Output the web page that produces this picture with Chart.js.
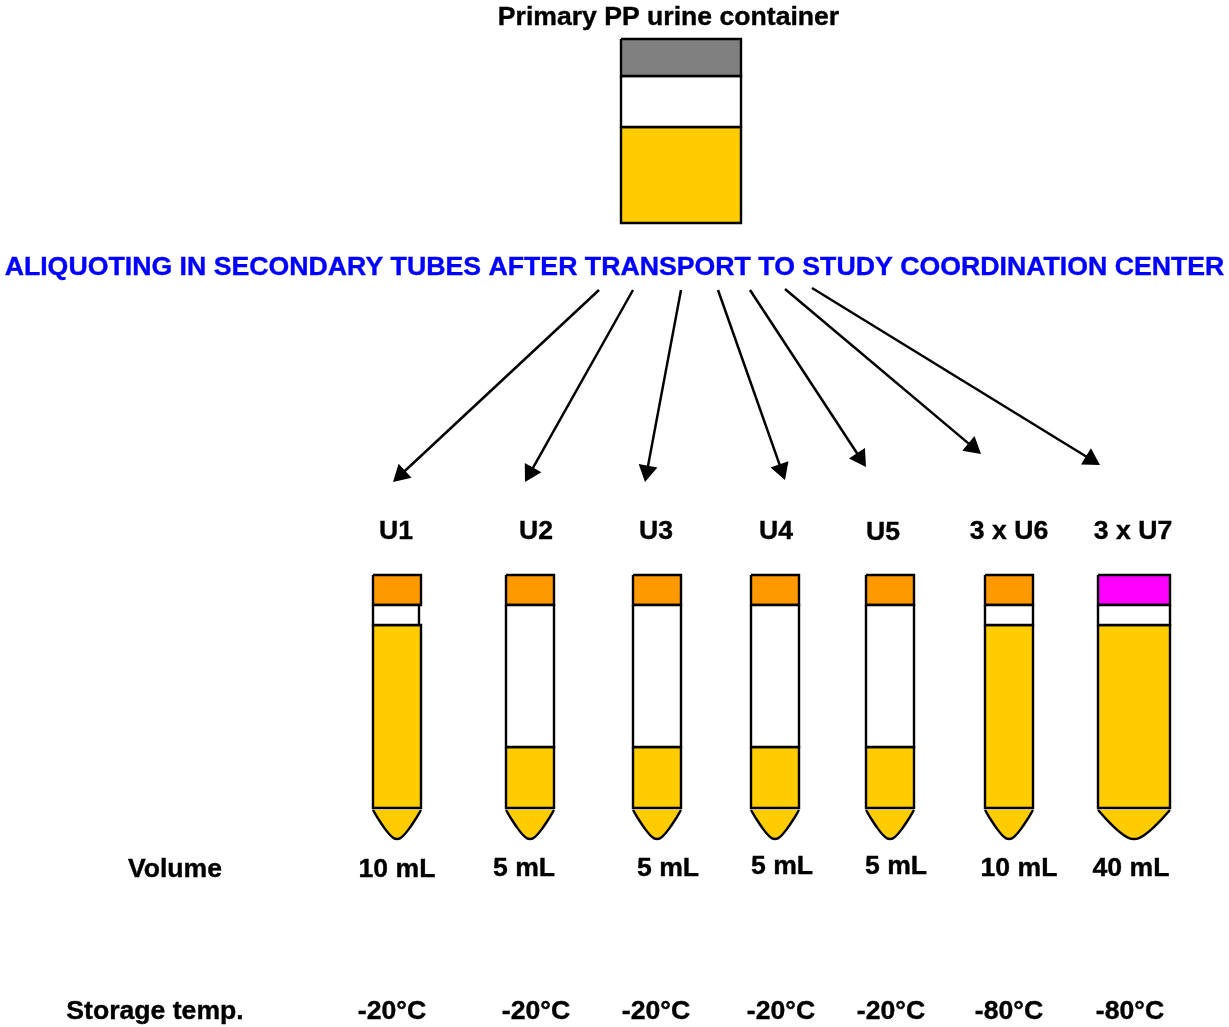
<!DOCTYPE html>
<html>
<head>
<meta charset="utf-8">
<title>Urine aliquoting scheme</title>
<script src="https://cdn.jsdelivr.net/npm/chart.js@4/dist/chart.umd.min.js"></script>
<style>
    html, body { margin: 0; padding: 0; background: #fff; overflow: hidden; }
    canvas { display: block; }
</style>
</head>
<body>
<canvas id="schemeChart" width="1229" height="1027"></canvas>
<script>
// secondary tubes
const tubeNames = ['U1', 'U2', 'U3', 'U4', 'U5', '3 x U6', '3 x U7'];
const tubeVolumes = ['10 mL', '5 mL', '5 mL', '5 mL', '5 mL', '10 mL', '40 mL'];
const tubeTemps = ['-20°C', '-20°C', '-20°C', '-20°C', '-20°C', '-80°C', '-80°C'];
const tubeLeft = [373, 506, 633, 751, 866, 985, 1098];
const tubeRight = [421, 554, 681, 799, 914, 1033, 1170];
const neckRight = [419, 554, 681, 799, 914, 1033, 1170];
const liquidTop = [625, 747, 747, 747, 747, 625, 625];
const capColors = ['#FF9900', '#FF9900', '#FF9900', '#FF9900', '#FF9900', '#FF9900', '#FF00FF'];

// text positions of the three rows below the arrows
const nameX = [396, 536, 656, 776, 883, 1009, 1133];
const nameY = [532, 532, 532, 532, 533, 532, 532];
const volumeX = [397, 524, 668, 782, 896, 1019, 1131];
const volumeY = [870, 869, 869, 867, 867, 869, 869];
const tempX = [392, 536, 656, 781, 891, 1009, 1130];

// arrows from the heading down to the tubes
const arrowStartX = [599, 633, 681, 718, 750, 785, 812];
const arrowStartY = [290, 290, 290, 290, 290, 289, 288];
const arrowEndX = [393, 525, 645, 785, 866, 981, 1100];
const arrowEndY = [482, 482, 482, 480, 467, 454, 465];

// rounded tube bottom, as fractions of tube width and tip height
const tipShapeX = [0, 0.12, 0.25, 0.36, 0.44, 0.5, 0.56, 0.64, 0.75, 0.88, 1];
const tipShapeY = [0, 0.33, 0.65, 0.87, 0.98, 1, 0.98, 0.87, 0.65, 0.33, 0];

const liquidColor = '#FFCC00';

function box(left, right, top, bottom, color) {
    return {
        data: [
            { x: left, y: top }, { x: right, y: top }, { x: right, y: bottom },
            { x: left, y: bottom }, { x: left, y: top }
        ],
        showLine: true,
        fill: 'shape',
        backgroundColor: color,
        borderColor: '#000',
        borderWidth: 2.4,
        borderJoinStyle: 'miter',
        pointRadius: 0
    };
}

function tip(left, right) {
    return {
        data: tipShapeX.map((fx, i) => ({
            x: left + fx * (right - left),
            y: 810 + tipShapeY[i] * 29
        })),
        showLine: true,
        fill: 'shape',
        backgroundColor: liquidColor,
        borderColor: '#000',
        borderWidth: 2.4,
        tension: 0.4,
        pointRadius: 0
    };
}

function arrow(i) {
    const dx = arrowEndX[i] - arrowStartX[i];
    const dy = arrowEndY[i] - arrowStartY[i];
    const len = Math.hypot(dx, dy);
    const headSize = 11;
    // the triangle marker is centred on its point, so pull it back from the tip
    return {
        data: [
            { x: arrowStartX[i], y: arrowStartY[i] },
            { x: arrowEndX[i] - dx / len * headSize, y: arrowEndY[i] - dy / len * headSize }
        ],
        showLine: true,
        borderColor: '#000',
        borderWidth: 2.5,
        pointStyle: 'triangle',
        pointRadius: [0, headSize],
        pointBorderWidth: 0,
        pointBackgroundColor: '#000',
        pointRotation: Math.atan2(dx, -dy) * 180 / Math.PI
    };
}

const datasets = [];

// primary container
datasets.push(box(621, 741, 39, 76, '#808080'));
datasets.push(box(621, 741, 76, 127, '#FFFFFF'));
datasets.push(box(621, 741, 127, 223, liquidColor));

tubeNames.forEach((name, i) => {
    datasets.push(box(tubeLeft[i], neckRight[i], 605, liquidTop[i], '#FFFFFF'));
    datasets.push(box(tubeLeft[i], tubeRight[i], 575, 605, capColors[i]));
    datasets.push(box(tubeLeft[i], tubeRight[i], liquidTop[i], 808, liquidColor));
    datasets.push(tip(tubeLeft[i], tubeRight[i]));
    datasets.push(arrow(i));
});

// text is placed through the scales like the marks
const textPlugin = {
    id: 'schemeText',
    afterDatasetsDraw(chart) {
        const { ctx, scales } = chart;
        const put = (text, x, y, size, color) => {
            const px = scales.x.getPixelForValue(x);
            const py = scales.y.getPixelForValue(y);
            ctx.font = 'bold ' + size + 'px "Liberation Sans", Arial, sans-serif';
            ctx.fillStyle = color;
            ctx.strokeStyle = color;
            ctx.lineWidth = 0.4;
            ctx.textAlign = 'center';
            ctx.textBaseline = 'middle';
            ctx.fillText(text, px, py);
            ctx.strokeText(text, px, py);
        };
        ctx.save();
        put('Primary PP urine container', 668.5, 18, 26.6, '#000');
        put('ALIQUOTING IN SECONDARY TUBES AFTER TRANSPORT TO STUDY COORDINATION CENTER', 614.5, 268, 26.7, '#0000FF');
        put('Volume', 175, 870, 26.6, '#000');
        put('Storage temp.', 155, 1012, 26.6, '#000');
        tubeNames.forEach((name, i) => {
            put(name, nameX[i], nameY[i], 26.6, '#000');
            put(tubeVolumes[i], volumeX[i], volumeY[i], 26.6, '#000');
            put(tubeTemps[i], tempX[i], 1012, 26.6, '#000');
        });
        ctx.restore();
    }
};

new Chart(document.getElementById('schemeChart').getContext('2d'), {
    type: 'scatter',
    data: { datasets: datasets },
    options: {
        responsive: false,
        animation: false,
        layout: { padding: 0, autoPadding: false },
        scales: {
            x: { type: 'linear', min: 0, max: 1229, display: false },
            y: { type: 'linear', min: 0, max: 1027, reverse: true, display: false }
        },
        plugins: {
            legend: { display: false },
            tooltip: { enabled: false }
        }
    },
    plugins: [textPlugin]
});
</script>
</body>
</html>
